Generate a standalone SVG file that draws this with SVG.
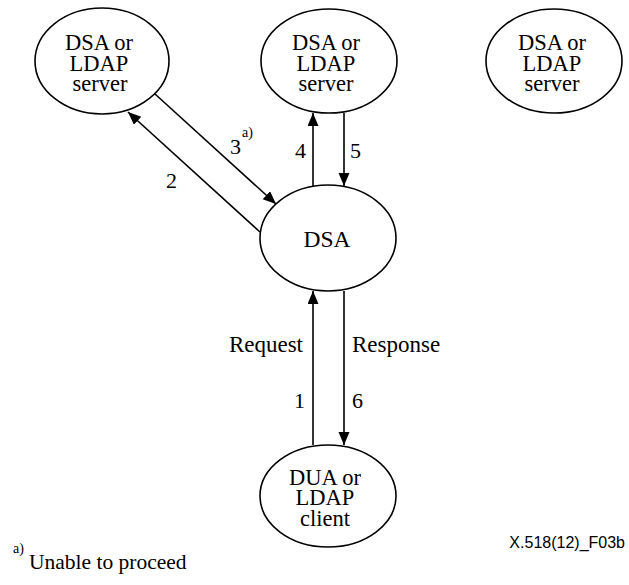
<svg xmlns="http://www.w3.org/2000/svg" width="629" height="585" viewBox="0 0 629 585">
<style>
.n{fill:#fff;stroke:#000;stroke-width:1.6}
.t{font-family:'Liberation Serif','Times New Roman',serif;font-size:22.5px;fill:#000;text-anchor:middle}
.l{font-family:'Liberation Serif','Times New Roman',serif;font-size:23px;fill:#000}
.c{stroke:#000;stroke-width:1.6;fill:none;marker-end:url(#ah)}
</style>
<defs>
<marker id="ah" markerUnits="userSpaceOnUse" markerWidth="14" markerHeight="12" refX="13" refY="5.5" orient="auto">
<path d="M0,0 L13,5.5 L0,11 z" fill="#000"/>
</marker>
</defs>
<rect width="629" height="585" fill="#fff"/>
<g id="connectors">
<line class="c" x1="260" y1="232" x2="128" y2="112"/>
<line class="c" x1="155" y1="94" x2="276" y2="204"/>
<line class="c" x1="313" y1="186" x2="313" y2="113"/>
<line class="c" x1="344" y1="113" x2="344" y2="186"/>
<line class="c" x1="313" y1="445" x2="313" y2="291"/>
<line class="c" x1="344" y1="291" x2="344" y2="445"/>
</g>
<g id="labels">
<text class="l" x="230" y="154" style="font-size:22px">3</text>
<text class="l" x="242" y="137" style="font-size:14px">a)</text>
<text class="l" x="166" y="188" style="font-size:22px">2</text>
<text class="l" x="295" y="158" style="font-size:22px">4</text>
<text class="l" x="350" y="158" style="font-size:22px">5</text>
<text class="l" x="303" y="352" text-anchor="end">Request</text>
<text class="l" x="352" y="352">Response</text>
<text class="l" x="305" y="408" text-anchor="end" style="font-size:22px">1</text>
<text class="l" x="352" y="408" style="font-size:22px">6</text>
</g>
<g id="server1">
<ellipse class="n" cx="102" cy="61" rx="67" ry="53"/>
<text class="t" x="99" y="50">DSA or</text>
<text class="t" x="99" y="71">LDAP</text>
<text class="t" x="100" y="91">server</text>
</g>
<g id="server2">
<ellipse class="n" cx="329" cy="61" rx="68" ry="52"/>
<text class="t" x="326" y="50">DSA or</text>
<text class="t" x="326" y="71">LDAP</text>
<text class="t" x="326" y="91">server</text>
</g>
<g id="server3">
<ellipse class="n" cx="554" cy="61" rx="68" ry="52"/>
<text class="t" x="552" y="50">DSA or</text>
<text class="t" x="552" y="71">LDAP</text>
<text class="t" x="552" y="91">server</text>
</g>
<g id="dsa">
<ellipse class="n" cx="328" cy="238" rx="68" ry="53"/>
<text class="t" x="327" y="247" style="font-size:23.5px">DSA</text>
</g>
<g id="client">
<ellipse class="n" cx="328" cy="496" rx="68" ry="51"/>
<text class="t" x="325" y="485">DUA or</text>
<text class="t" x="325" y="505">LDAP</text>
<text class="t" x="325" y="526">client</text>
</g>
<g id="footnote">
<text class="l" x="13" y="553" style="font-size:14px">a)</text>
<text class="l" x="29" y="569" style="font-size:21.5px">Unable to proceed</text>
<text x="625" y="548" text-anchor="end" style="font-family:'Liberation Sans',Arial,sans-serif;font-size:16px;fill:#000">X.518(12)_F03b</text>
</g>
</svg>
